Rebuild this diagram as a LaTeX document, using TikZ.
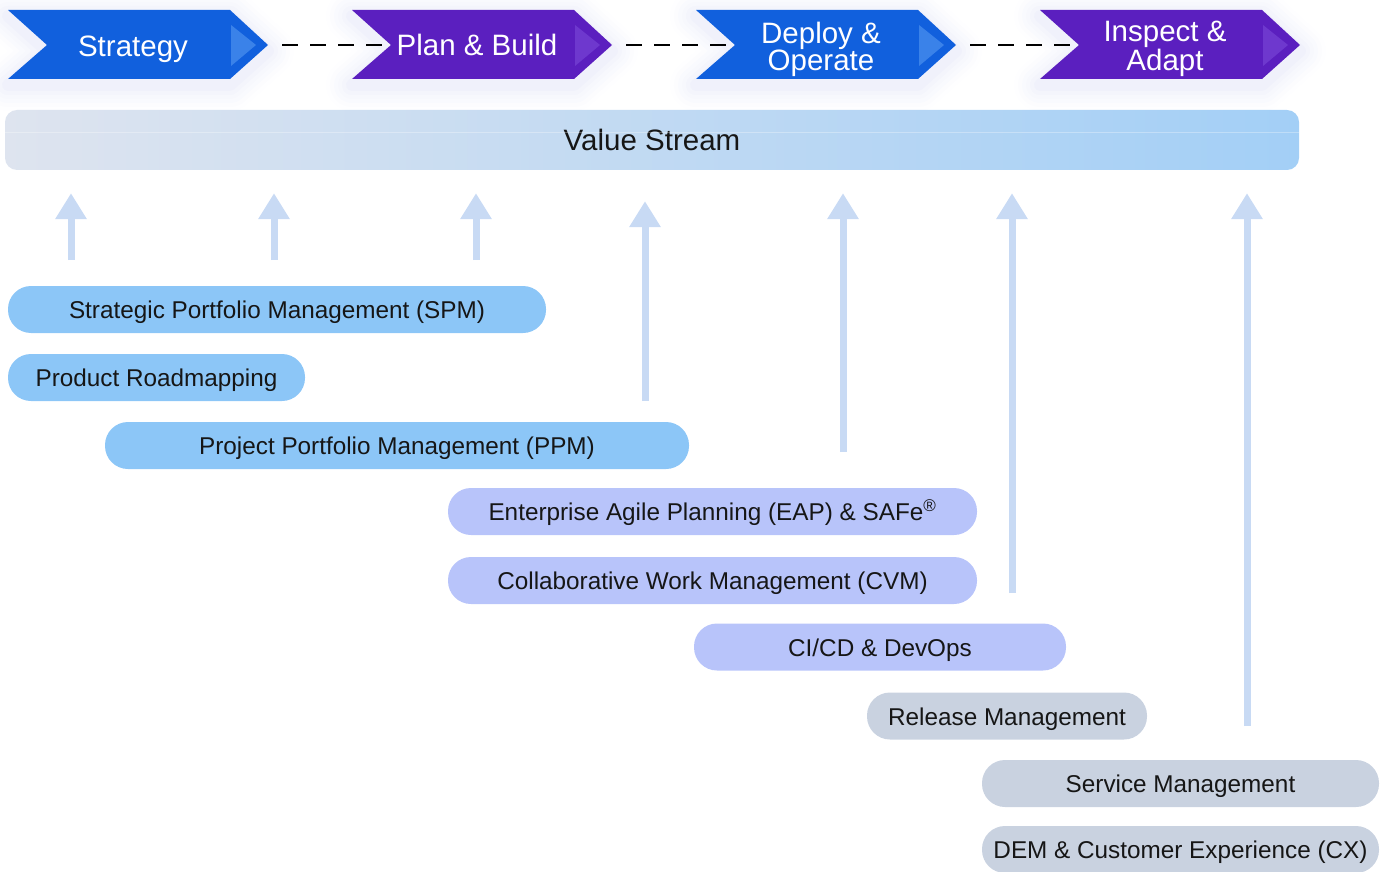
\documentclass[tikz,border=0pt]{standalone}
\usepackage{fontspec}
\setmainfont{Liberation Sans}
\usepackage{tikz}
\usetikzlibrary{arrows.meta}
\usetikzlibrary{positioning}

\definecolor{chevblue}{HTML}{1160DD}
\definecolor{chevblueL}{HTML}{3A82E9}
\definecolor{chevpurple}{HTML}{5B1FBF}
\definecolor{chevpurpleL}{HTML}{6E38CE}
\definecolor{glowc}{HTML}{8A96E0}
\definecolor{vsleft}{HTML}{DEE4EF}
\definecolor{vsright}{HTML}{A3CFF6}
\definecolor{arrowc}{HTML}{C8DAF4}
\definecolor{pillblue}{HTML}{8CC6F7}
\definecolor{pilllav}{HTML}{B8C4FA}
\definecolor{pillgrey}{HTML}{C9D2E0}
\definecolor{ink}{HTML}{161616}

\begin{document}
\begin{tikzpicture}[x=1pt,y=-1pt,
  chevtext/.style={text=white,align=center,inner sep=0pt,
    font=\fontsize{29.5}{27}\selectfont},
  dashline/.style={black,line width=2.5pt,dash pattern=on 16pt off 12pt},
  vsbar/.style={rounded corners=12pt,left color=vsleft,right color=vsright,
    minimum width=1294pt,minimum height=60pt,inner sep=0pt,text=ink,
    text height=21pt,text depth=0pt,font=\fontsize{29.5}{30}\selectfont},
  uparrow/.style={draw=arrowc,line width=7pt,-{Triangle[width=30pt,length=26pt]}},
  pill/.style={rounded corners=23pt,minimum height=47pt,inner sep=0pt,text=ink,
    text height=18.5pt,text depth=0pt,font=\fontsize{24.3}{28}\selectfont}]

  \useasboundingbox (0,0) rectangle (1387,872);
  \def \chev {(0,10) -- (222,10) -- (260,45) -- (222,79) -- (0,79) -- (39,45) -- cycle}

  % phases
  \foreach \x/\c/\t/\dy/\lbl [count=\i] in {8/chevblue/chevblueL/4/{Strategy},
      352/chevpurple/chevpurpleL/0/{Plan \& Build},
      696/chevblue/chevblueL/4/{Deploy \&\\Operate},
      1040/chevpurple/chevpurpleL/4/{Inspect \&\\Adapt}} {
    \begin{scope}[xshift=\x pt]
      \foreach \w/\o in {52/.012,44/.016,36/.02,28/.025,20/.03,12/.035}
        \draw[glowc,line width=\w pt,opacity=\o,line join=round,yshift=-6pt] \chev;
      \fill[\c] \chev;
      \fill[\t] (223,25) -- (248,45) -- (223,66) -- cycle;
      \node[chevtext] (chev\i) at (125,45+\dy) {\lbl};
      \coordinate (tip\i) at (260,45);
      \coordinate (notch\i) at (39,45);
    \end{scope}
  }
  \foreach \i/\j in {1/2,2/3,3/4}
    \draw[dashline] ([xshift=14pt]tip\i) -- ([xshift=-8pt]notch\j);

  % value stream
  \node[vsbar] (vs) at (652,140) {Value Stream};
  \draw[white,opacity=.3,line width=1pt] (vs.west |- 0,133) -- (vs.east |- 0,133);

  % arrows
  \foreach \x/\y/\g [count=\i] in {71/260/23, 274/260/23, 476/260/23,
      645/401/31, 843/452/23, 1012/593/23, 1247/726/23}
    \draw[uparrow] (\x,\y) coordinate (foot\i) -- ([yshift=-\g pt]vs.south -| foot\i);

  % tools
  \node[pill,fill=pillblue,minimum width=538pt] (spm) at (277,309.5)
    {Strategic Portfolio Management (SPM)\hspace{10pt}};
  \node[pill,fill=pillblue,minimum width=297pt] (roadmap) at (156.5,377.5)
    {Product Roadmapping};
  \node[pill,fill=pillblue,minimum width=584pt] (ppm) at (397,445.5)
    {Project Portfolio Management (PPM)\hspace{22pt}};
  \node[pill,fill=pilllav,minimum width=529pt] (eap) at (712.5,511.5)
    {Enterprise Agile Planning (EAP) \& SAFe\textsuperscript{\textregistered}};
  \node[pill,fill=pilllav,minimum width=529pt] (cvm) at (712.5,580.5)
    {Collaborative Work Management (CVM)\hspace{8pt}};
  \node[pill,fill=pilllav,minimum width=372pt] (cicd) at (880,647)
    {CI/CD \& DevOps\hspace{6pt}};
  \node[pill,fill=pillgrey,minimum width=280pt] (release) at (1007,716)
    {Release Management};
  \node[pill,fill=pillgrey,minimum width=397pt] (service) at (1180.5,783.5)
    {Service Management\hspace{8pt}};
  \node[pill,fill=pillgrey,minimum width=397pt] (dem) at (1180.5,849.5)
    {DEM \& Customer Experience (CX)};

\end{tikzpicture}
\end{document}
